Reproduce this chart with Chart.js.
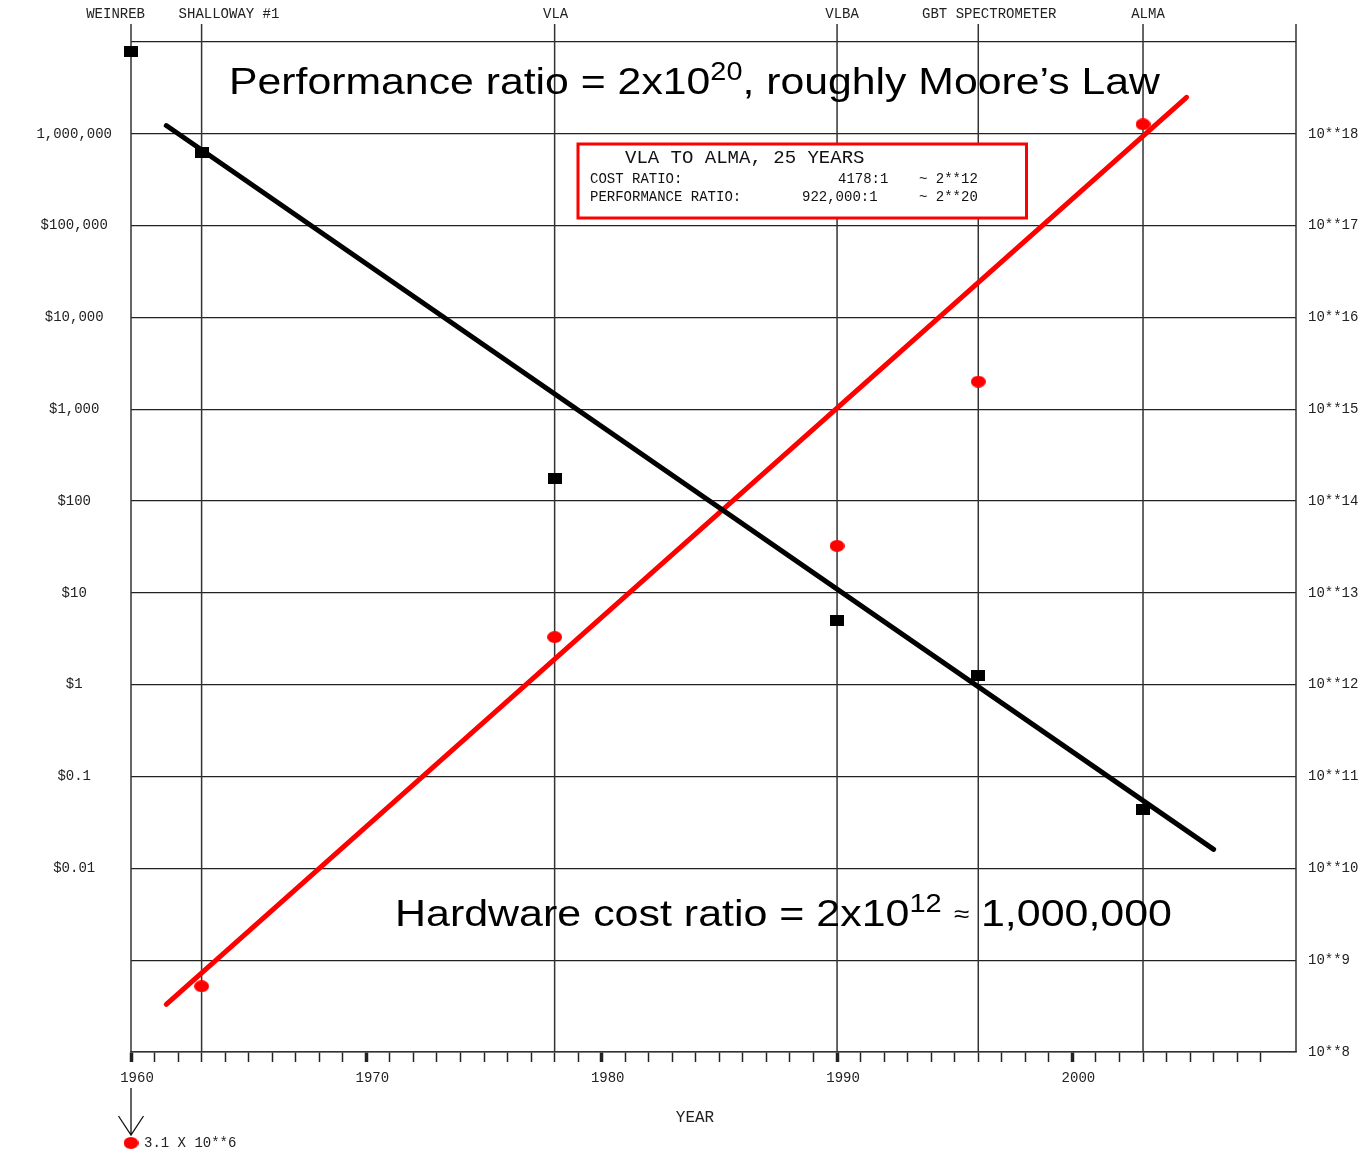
<!DOCTYPE html>
<html>
<head>
<meta charset="utf-8">
<script src="https://cdn.jsdelivr.net/npm/chart.js@4.4.1/dist/chart.umd.min.js"></script>
<style>
html, body { margin: 0; padding: 0; background: #fff; }
canvas { display: block; }
</style>
</head>
<body>
<canvas id="grafico" width="1365" height="1153"></canvas>
<script>
// instrumentos (linhas verticais)
const eventNames = ['WEINREB', 'SHALLOWAY #1', 'VLA', 'VLBA', 'GBT SPECTROMETER', 'ALMA']
const eventYears = [1960, 1963, 1978, 1990, 1996, 2003]

// custo do hardware em dólares (eixo esquerdo)
const costValues = [7.8e6, 6.2e5, 175, 5.0, 1.25, 0.044]
// desempenho (eixo direito) - o Weinreb fica abaixo do eixo
const perfValues = [3.1e6, 5.2e8, 3.3e12, 3.25e13, 2.0e15, 1.27e18]

// retas de ajuste
const costFitYears = [1961.5, 2006.0]
const costFitValues = [1.23e6, 0.0161]
const perfFitYears = [1961.5, 2004.85]
const perfFitValues = [3.3e8, 2.5e18]

// rótulos dos eixos, de 10^-4 a 10^7 e de 10^8 a 10^19
const costTickLabels = ['', '', '$0.01', '$0.1', '$1', '$10', '$100', '$1,000', '$10,000', '$100,000', '1,000,000', '']
const perfTickLabels = ['10**8', '10**9', '10**10', '10**11', '10**12', '10**13', '10**14', '10**15', '10**16', '10**17', '10**18', '']

const MONO = '"Liberation Mono", "Courier New", monospace'
const SANS = '"Liberation Sans", Arial, sans-serif'

Chart.defaults.font.family = MONO
Chart.defaults.font.size = 14
Chart.defaults.color = '#222'

function makeRect(w, h, color) {
  const c = document.createElement('canvas')
  c.width = w; c.height = h
  const g = c.getContext('2d')
  g.fillStyle = color
  g.fillRect(0, 0, w, h)
  return c
}
function makeEllipse(w, h, color) {
  const c = document.createElement('canvas')
  c.width = w; c.height = h
  const g = c.getContext('2d')
  g.fillStyle = color
  g.beginPath()
  g.ellipse(w / 2, h / 2, w / 2, h / 2, 0, 0, Math.PI * 2)
  g.fill()
  return c
}
const squareMark = makeRect(14, 11, '#000')
const dotMark = makeEllipse(15, 12, '#ff0000')

const perfMin = 1e8

function drawRich(ctx, parts, left, baseline, width) {
  let natural = 0
  parts.forEach(p => {
    ctx.font = p.size + 'px ' + SANS
    p.w = ctx.measureText(p.t).width
    natural += p.w
  })
  ctx.save()
  ctx.translate(left, baseline)
  ctx.scale(width / natural, 1)
  ctx.fillStyle = '#000'
  ctx.textAlign = 'left'
  ctx.textBaseline = 'alphabetic'
  let cx = 0
  parts.forEach(p => {
    ctx.font = p.size + 'px ' + SANS
    ctx.fillText(p.t, cx, p.dy || 0)
    cx += p.w
  })
  ctx.restore()
}

const overlay = {
  id: 'overlay',
  beforeDatasetsDraw(chart) {
    const { ctx, chartArea: a, scales: { x } } = chart
    ctx.save()
    // linhas verticais dos instrumentos + borda direita
    ctx.strokeStyle = '#333'
    ctx.lineWidth = 1.5
    const lines = eventYears.map(v => x.getPixelForValue(v))
    lines.push(x.getPixelForValue(x.max))
    lines.forEach(px => {
      ctx.beginPath()
      ctx.moveTo(px, a.top - 18)
      ctx.lineTo(px, a.bottom)
      ctx.stroke()
    })
    // nomes no topo
    const shift = [14, -23, 1, 5, 11, 5]
    const align = ['right', 'left', 'center', 'center', 'center', 'center']
    ctx.fillStyle = '#222'
    ctx.font = '14px ' + MONO
    ctx.textBaseline = 'alphabetic'
    eventNames.forEach((n, i) => {
      ctx.textAlign = align[i]
      ctx.fillText(n, x.getPixelForValue(eventYears[i]) + shift[i], 18)
    })
    ctx.restore()
  },
  afterDatasetsDraw(chart) {
    const { ctx, chartArea: a, scales: { x } } = chart
    ctx.save()

    // caixa vermelha
    const bx = 578, by = 144, bw = 448.5, bh = 74
    ctx.fillStyle = '#fff'
    ctx.fillRect(bx, by, bw, bh)
    ctx.strokeStyle = '#ff0000'
    ctx.lineWidth = 3
    ctx.strokeRect(bx, by, bw, bh)
    ctx.fillStyle = '#111'
    ctx.textAlign = 'left'
    ctx.textBaseline = 'alphabetic'
    ctx.font = '19px ' + MONO
    ctx.fillText('VLA TO ALMA, 25 YEARS', 625, 163)
    ctx.font = '14px ' + MONO
    ctx.fillText('COST RATIO:', 590, 183)
    ctx.fillText('4178:1', 838, 183)
    ctx.fillText('~ 2**12', 919, 183)
    ctx.fillText('PERFORMANCE RATIO:', 590, 200.5)
    ctx.fillText('922,000:1', 802, 200.5)
    ctx.fillText('~ 2**20', 919, 200.5)

    // textos grandes
    drawRich(ctx, [
      { t: 'Performance ratio = 2x10', size: 37 },
      { t: '20', size: 25, dy: -14 },
      { t: ', roughly Moore\u2019s Law', size: 37 }
    ], 229, 94, 931)
    drawRich(ctx, [
      { t: 'Hardware cost ratio = 2x10', size: 37 },
      { t: '12', size: 25, dy: -14 },
      { t: ' ', size: 37 },
      { t: '\u2248', size: 24, dy: -4 },
      { t: ' 1,000,000', size: 37 }
    ], 395, 926, 777)

    // título do eixo x
    ctx.fillStyle = '#222'
    ctx.font = '16px ' + MONO
    ctx.textAlign = 'center'
    ctx.fillText('YEAR', 695, 1122)

    // ponto fora da escala (Weinreb)
    perfValues.forEach((v, i) => {
      if (v >= perfMin) return
      const px = x.getPixelForValue(eventYears[i])
      ctx.strokeStyle = '#111'
      ctx.lineWidth = 1.3
      ctx.beginPath()
      ctx.moveTo(px, 1088); ctx.lineTo(px, 1135)
      ctx.moveTo(px - 12.5, 1116); ctx.lineTo(px, 1135); ctx.lineTo(px + 12.5, 1116)
      ctx.stroke()
      ctx.drawImage(dotMark, px - dotMark.width / 2, 1143 - dotMark.height / 2)
      const e = Math.floor(Math.log10(v))
      const m = Math.round(v / Math.pow(10, e) * 10) / 10
      ctx.fillStyle = '#222'
      ctx.font = '14px ' + MONO
      ctx.textAlign = 'left'
      ctx.fillText(m + ' X 10**' + e, px + 13, 1147)
    })
    ctx.restore()
  }
}

const ctx = document.getElementById('grafico')

const data = {
  datasets: [
    {
      label: 'ajuste custo',
      data: costFitYears.map((x, i) => ({ x, y: costFitValues[i] })),
      showLine: true,
      borderColor: '#000',
      borderWidth: 5,
      borderCapStyle: 'round',
      pointRadius: 0,
      yAxisID: 'y',
      order: 0
    },
    {
      label: 'ajuste desempenho',
      data: perfFitYears.map((x, i) => ({ x, y: perfFitValues[i] })),
      showLine: true,
      borderColor: '#ff0000',
      borderWidth: 5,
      borderCapStyle: 'round',
      pointRadius: 0,
      yAxisID: 'y2',
      order: 0
    },
    {
      label: 'custo',
      data: eventYears.map((x, i) => ({ x, y: costValues[i] })),
      pointStyle: squareMark,
      pointRadius: 7,
      yAxisID: 'y',
      clip: false,
      order: 1
    },
    {
      label: 'desempenho',
      data: eventYears.map((x, i) => ({ x, y: perfValues[i] })).filter(p => p.y >= perfMin),
      pointStyle: dotMark,
      pointRadius: 7,
      yAxisID: 'y2',
      clip: false,
      order: 1
    }
  ]
}

const config = {
  type: 'scatter',
  data,
  plugins: [overlay],
  options: {
    responsive: false,
    animation: false,
    layout: { padding: { top: 42, left: 0, right: 0, bottom: 0 } },
    plugins: {
      legend: { display: false },
      tooltip: { enabled: false }
    },
    scales: {
      x: {
        type: 'linear',
        min: 1960,
        max: 2009.5,
        afterFit: s => { s.height = 101 },
        afterBuildTicks: s => {
          s.ticks = s.ticks.filter(t => Number.isInteger(t.value) && t.value <= 2008)
        },
        ticks: {
          stepSize: 1,
          autoSkip: false,
          maxRotation: 0,
          labelOffset: 6,
          padding: 8,
          callback: v => (v % 10 === 0 ? String(v) : '')
        },
        grid: {
          drawOnChartArea: false,
          drawTicks: true,
          tickLength: 10,
          tickColor: '#222',
          tickWidth: c => (c.tick && c.tick.value % 10 === 0 ? 3.5 : 1.5)
        },
        border: { display: true, color: '#333', width: 1.5 }
      },
      y: {
        type: 'logarithmic',
        position: 'left',
        min: 1e-4,
        max: 1e7,
        afterFit: s => { s.width = 131 },
        afterBuildTicks: s => {
          s.ticks = costTickLabels.map((_, i) => ({ value: Math.pow(10, i - 4) }))
        },
        ticks: {
          crossAlign: 'center',
          padding: 19,
          autoSkip: false,
          callback: (v, i) => costTickLabels[i]
        },
        grid: { color: '#222', lineWidth: 1.2, drawTicks: false },
        border: { display: false }
      },
      y2: {
        type: 'logarithmic',
        position: 'right',
        min: 1e8,
        max: 1e19,
        afterFit: s => { s.width = 69 },
        afterBuildTicks: s => {
          s.ticks = perfTickLabels.map((_, i) => ({ value: Math.pow(10, i + 8) }))
        },
        ticks: {
          padding: 12,
          autoSkip: false,
          callback: (v, i) => perfTickLabels[i]
        },
        grid: { drawOnChartArea: false, drawTicks: false },
        border: { display: false }
      }
    }
  }
}

const graph = new Chart(ctx, config)
</script>
</body>
</html>
